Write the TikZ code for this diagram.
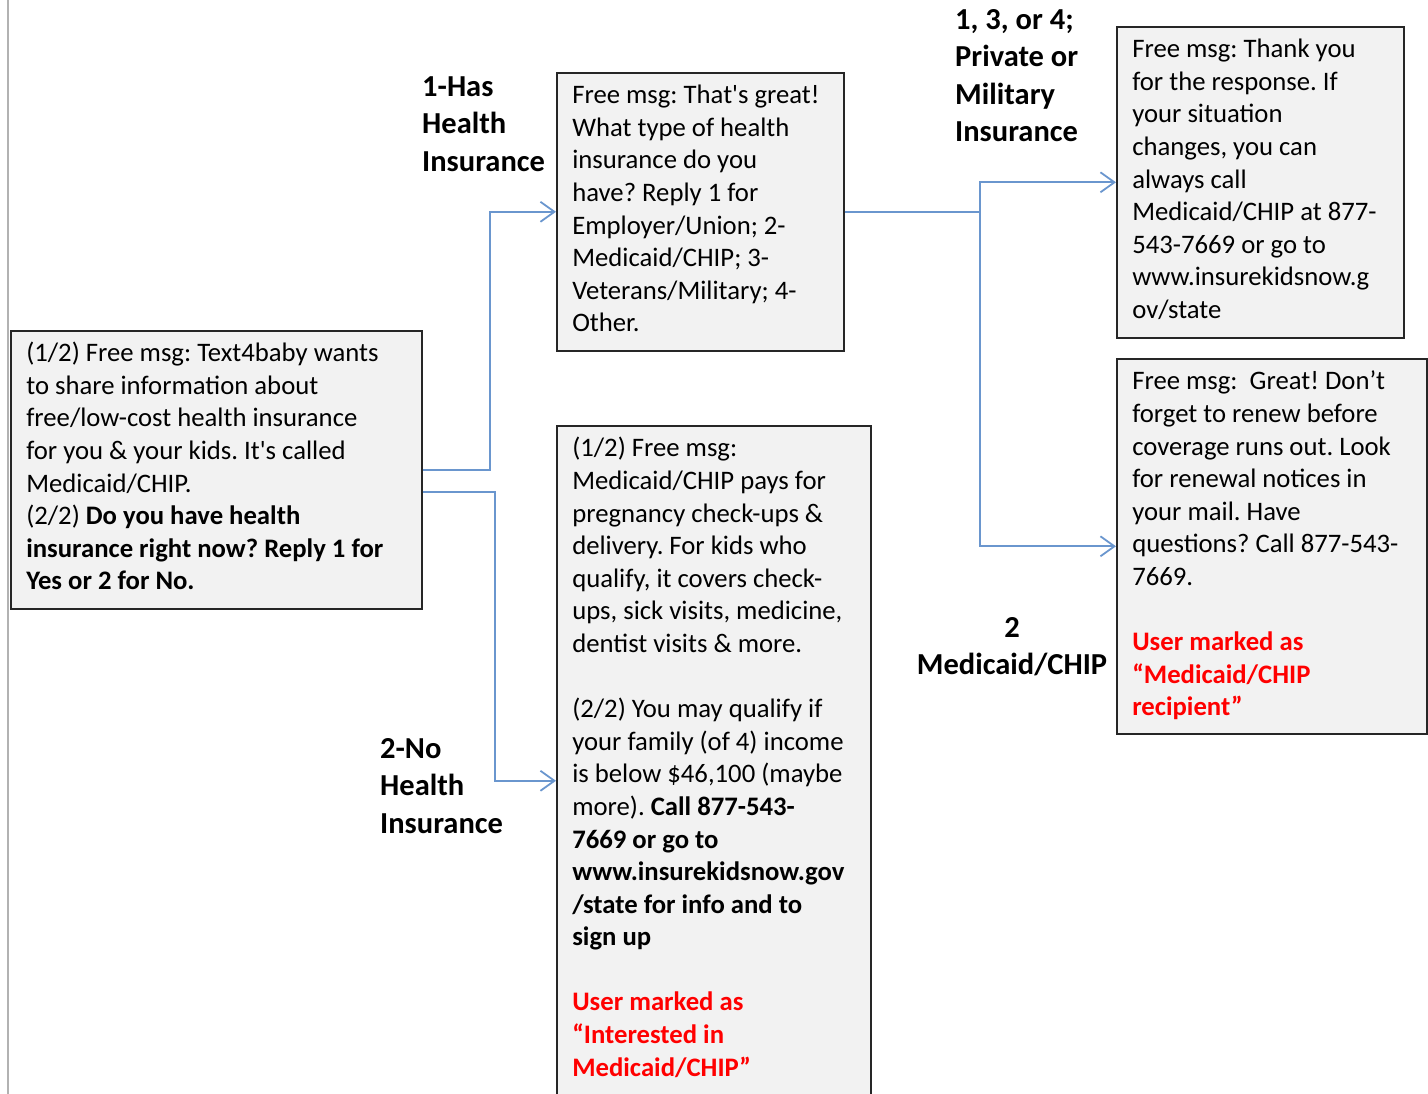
\documentclass[tikz,border=0pt]{standalone}
\usepackage{fontspec}
\setmainfont{Carlito}
\usetikzlibrary{arrows.meta}
\definecolor{boxfill}{RGB}{242,242,242}
\definecolor{linkblue}{RGB}{106,150,206}
\definecolor{markred}{RGB}{255,0,0}
\frenchspacing
\newcommand{\msgtext}[3]{\begin{minipage}[t][#2pt][t]{#1pt}\raggedright\leftskip=15.5pt\rule{0pt}{31pt}#3\end{minipage}}
\newcommand{\marked}[1]{{\bfseries\color{markred}#1}}
\begin{document}
\begin{tikzpicture}[x=1pt, y=-1pt,
    msgbox/.style={draw=black!85, fill=boxfill, line width=1.6pt, inner sep=0pt,
      anchor=north west, font=\fontsize{26.7}{32.6}\selectfont},
    answer/.style={inner sep=0pt, anchor=north west, align=left,
      font=\fontsize{30.5}{37.6}\selectfont\bfseries},
    link/.style={draw=linkblue, line width=1.8pt, -{Straight Barb[length=14pt, width=20pt]}}]
  \useasboundingbox (0,0) rectangle (1428,1094);
  % Page edge
  \draw[black!30, line width=1.5pt] (8,0) -- (8,1094);
  % Messages
  \node[msgbox, minimum width=411, minimum height=278] (intro) at (10,330) {\msgtext{411}{278}{%
    (1/2) Free msg: Text4baby wants\\
    to share information about\\
    free/low-cost health insurance\\
    for you \& your kids. It\textquotesingle s called\\
    Medicaid/CHIP.\\
    (2/2) \textbf{Do you have health}\\
    \textbf{insurance right now? Reply 1 for}\\
    \textbf{Yes or 2 for No.}}};
  \node[msgbox, minimum width=287, minimum height=278] (hasins) at (556,72) {\msgtext{287}{278}{%
    Free msg: That\textquotesingle s great!\\
    What type of health\\
    insurance do you\\
    have? Reply 1 for\\
    Employer/Union; 2-\\
    Medicaid/CHIP; 3-\\
    Veterans/Military; 4-\\
    Other.}};
  \node[msgbox, minimum width=314, minimum height=710] (noins) at (556,425) {\msgtext{314}{710}{%
    (1/2) Free msg:\\
    Medicaid/CHIP pays for\\
    pregnancy check-ups \&\\
    delivery. For kids who\\
    qualify, it covers check-\\
    ups, sick visits, medicine,\\
    dentist visits \& more.\\[\baselineskip]
    (2/2) You may qualify if\\
    your family (of 4) income\\
    is below \$46,100 (maybe\\
    more). \textbf{Call 877-543-}\\
    \textbf{7669 or go to}\\
    \textbf{www.insurekidsnow.gov}\\
    \textbf{/state for info and to}\\
    \textbf{sign up}\\[\baselineskip]
    \marked{User marked as}\\
    \marked{“Interested in}\\
    \marked{Medicaid/CHIP”}}};
  \node[msgbox, minimum width=287, minimum height=311] (privins) at (1116,26) {\msgtext{287}{311}{%
    Free msg: Thank you\\
    for the response. If\\
    your situation\\
    changes, you can\\
    always call\\
    Medicaid/CHIP at 877-\\
    543-7669 or go to\\
    www.insurekidsnow.g\\
    ov/state}};
  \node[msgbox, minimum width=310, minimum height=375] (medins) at (1116,358) {\msgtext{310}{375}{%
    Free msg:\ \ Great! Don’t\\
    forget to renew before\\
    coverage runs out. Look\\
    for renewal notices in\\
    your mail. Have\\
    questions? Call 877-543-\\
    7669.\\[\baselineskip]
    \marked{User marked as}\\
    \marked{“Medicaid/CHIP}\\
    \marked{recipient”}}};
  % Replies
  \node[answer] (yeslbl) at (422,76) {1-Has\\Health\\Insurance};
  \node[answer] (nolbl) at (380,738) {2-No\\Health\\Insurance};
  \node[answer] (privlbl) at (955,9) {1, 3, or 4;\\Private or\\Military\\Insurance};
  \node[answer, anchor=north, align=center] (medlbl) at (1012,617) {2\\Medicaid/CHIP};
  % Connectors
  \draw[link] (intro.east) -- ++(67,0) |- (hasins.west);
  \draw[link] ([yshift=-22pt]intro.east) -- ++(72,0) |- (noins.west);
  \draw[link] (hasins.east) -- ++(135,0) coordinate (split) |- (privins.west);
  \draw[link] (split) |- (medins.west);
\end{tikzpicture}
\end{document}
